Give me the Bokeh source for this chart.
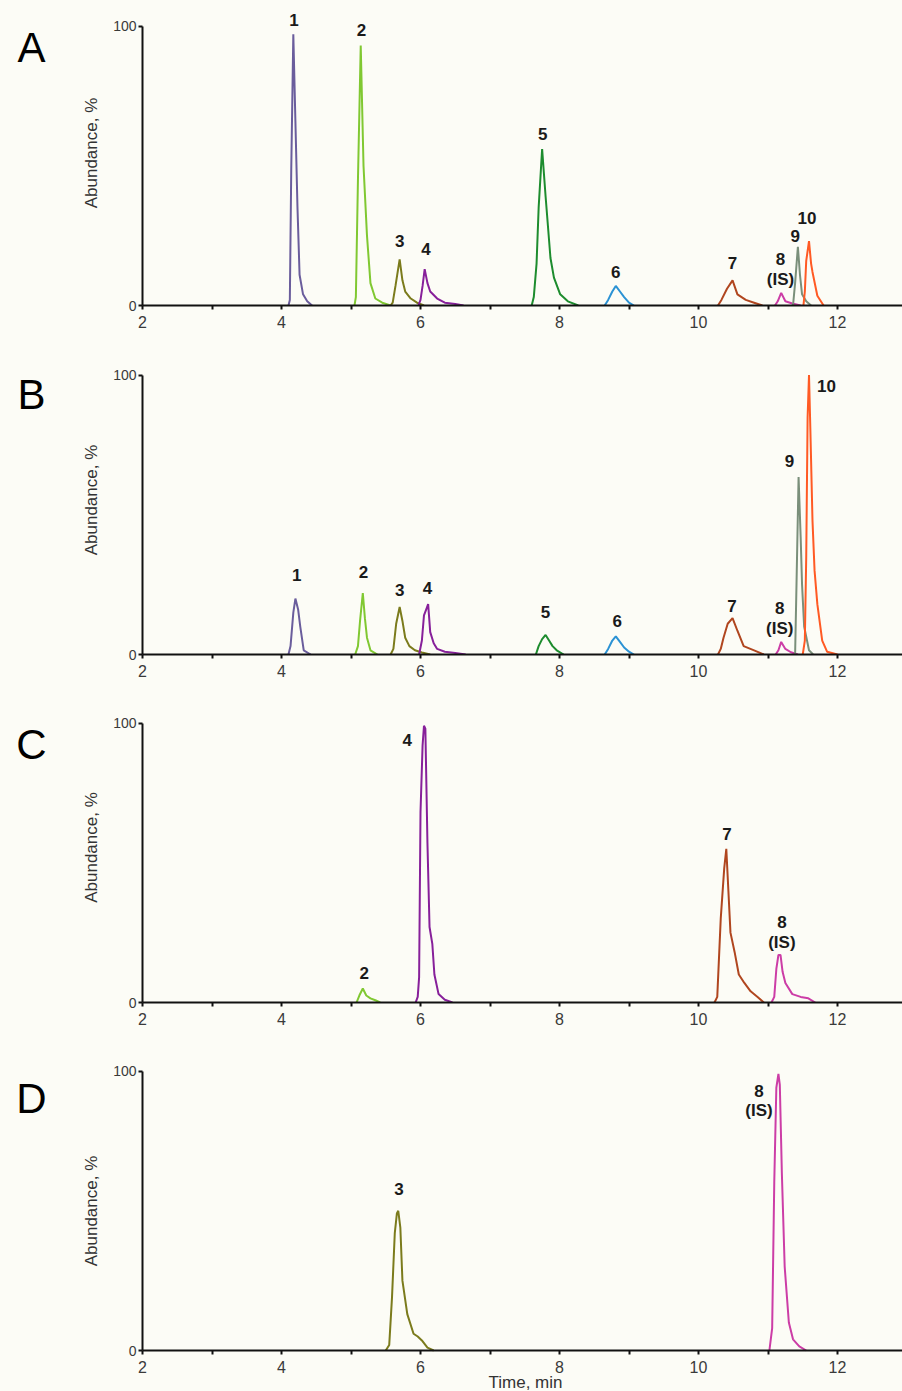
from bokeh.plotting import figure
from bokeh.layouts import column, row
from bokeh.models import Range1d, FixedTicker, ColumnDataSource
from bokeh.embed import file_html
from bokeh.resources import INLINE
from bokeh.core.properties import value

# ---------------- data ----------------
compound_ids = ["1", "2", "3", "4", "5", "6", "7", "8", "9", "10"]
compound_colors = ["#6A5D9C", "#80C832", "#7B7B1C", "#87209A", "#1D8C2E",
                   "#2B92D4", "#B0461F", "#CC3DA6", "#7A8F7A", "#FF5A24"]

# Panel A (time, min / abundance, %)
a1_t = [4.10, 4.12, 4.14, 4.17, 4.20, 4.23, 4.26, 4.31, 4.37, 4.44]
a1_v = [0, 2, 48, 97, 66, 35, 11, 4, 1.5, 0]
a2_t = [5.05, 5.07, 5.10, 5.14, 5.18, 5.23, 5.28, 5.35, 5.45, 5.57]
a2_v = [0, 3, 45, 93, 50, 25, 8, 2.5, 1, 0]
a3_t = [5.57, 5.60, 5.64, 5.70, 5.74, 5.78, 5.86, 5.95, 6.05]
a3_v = [0, 1, 7, 16.5, 9, 5, 2.5, 1, 0]
a4_t = [5.97, 6.00, 6.03, 6.06, 6.10, 6.14, 6.24, 6.35, 6.50, 6.62]
a4_v = [0, 2, 7, 13, 8, 5, 2.5, 1, 0.5, 0]
a5_t = [7.60, 7.63, 7.67, 7.70, 7.75, 7.80, 7.87, 7.92, 8.01, 8.12, 8.27]
a5_v = [0, 3, 15, 35, 56, 39, 17, 10, 4, 1.5, 0]
a6_t = [8.65, 8.70, 8.76, 8.81, 8.87, 8.93, 9.00, 9.07]
a6_v = [0, 2, 5, 7, 5, 3, 1, 0]
a7_t = [10.28, 10.33, 10.41, 10.49, 10.56, 10.68, 10.80, 10.92]
a7_v = [0, 2, 6, 9, 4, 2, 1, 0]
a8_t = [11.10, 11.14, 11.19, 11.25, 11.35, 11.47]
a8_v = [0, 1.5, 4.5, 1.5, 0.7, 0]
a9_t = [11.36, 11.39, 11.43, 11.46, 11.49, 11.55, 11.62]
a9_v = [0, 8, 21, 11, 4, 1.5, 0]
a10_t = [11.51, 11.53, 11.55, 11.59, 11.62, 11.64, 11.71, 11.80]
a10_v = [0, 5, 16, 23, 15, 12, 3.5, 0]

# Panel B
b1_t = [4.10, 4.13, 4.17, 4.20, 4.24, 4.27, 4.32, 4.42]
b1_v = [0, 3, 15, 20, 16, 10, 1.5, 0]
b2_t = [5.06, 5.10, 5.13, 5.17, 5.20, 5.23, 5.28, 5.38]
b2_v = [0, 3, 12, 22, 13, 6, 1.5, 0]
b3_t = [5.57, 5.61, 5.65, 5.70, 5.74, 5.78, 5.84, 5.92, 6.02, 6.14]
b3_v = [0, 2, 11, 17, 12, 6, 3, 1.5, 0.7, 0]
b4_t = [5.98, 6.02, 6.05, 6.08, 6.11, 6.14, 6.19, 6.24, 6.35, 6.50, 6.65]
b4_v = [0, 5, 14, 16, 18, 8, 4, 2, 1, 0.5, 0]
b5_t = [7.66, 7.70, 7.75, 7.80, 7.85, 7.90, 7.96, 8.06]
b5_v = [0, 3, 5.5, 7, 5, 3, 1.5, 0]
b6_t = [8.65, 8.70, 8.76, 8.81, 8.87, 8.93, 9.00, 9.07]
b6_v = [0, 2, 5, 6.5, 4.5, 2.5, 1, 0]
b7_t = [10.28, 10.32, 10.36, 10.42, 10.49, 10.56, 10.65, 10.80, 10.94]
b7_v = [0, 2, 6, 11, 13, 8.5, 3, 1.5, 0]
b8_t = [11.11, 11.15, 11.19, 11.25, 11.33, 11.43]
b8_v = [0, 1.5, 4.5, 2, 0.8, 0]
b9_t = [11.39, 11.41, 11.44, 11.47, 11.49, 11.52, 11.59, 11.65]
b9_v = [0, 25, 63.5, 42, 25, 10, 1.5, 0]
b10_t = [11.50, 11.53, 11.55, 11.57, 11.59, 11.61, 11.64, 11.67, 11.71, 11.78, 11.85, 12.00]
b10_v = [0, 5, 35, 85, 100, 80, 48, 30, 18, 5, 1, 0]

# Panel C
c2_t = [5.08, 5.12, 5.17, 5.22, 5.28, 5.35, 5.42]
c2_v = [0, 2.5, 5, 2.5, 1.5, 0.8, 0]
c4_t = [5.93, 5.96, 5.98, 6.00, 6.03, 6.05, 6.07, 6.10, 6.13, 6.17, 6.20, 6.26, 6.35, 6.46]
c4_v = [0, 2, 9, 68, 92, 99, 98, 57, 27, 21, 10, 3, 1, 0]
c7_t = [10.23, 10.27, 10.32, 10.37, 10.40, 10.43, 10.46, 10.52, 10.58, 10.66, 10.75, 10.85, 10.94]
c7_v = [0, 2, 30, 48, 55, 40, 25, 18, 10, 7, 4, 2, 0]
c8_t = [11.05, 11.09, 11.12, 11.15, 11.18, 11.21, 11.25, 11.35, 11.47, 11.58, 11.68]
c8_v = [0, 2, 12, 17, 17, 11, 7, 3, 2, 1.5, 0]

# Panel D
d3_t = [5.50, 5.55, 5.59, 5.63, 5.66, 5.68, 5.71, 5.74, 5.81, 5.90, 5.96, 6.02, 6.10, 6.19]
d3_v = [0, 2, 19, 42, 49, 50, 44, 25, 13, 6, 5, 3.6, 1, 0]
d8_t = [11.02, 11.06, 11.09, 11.12, 11.15, 11.17, 11.20, 11.24, 11.30, 11.36, 11.45, 11.55]
d8_v = [0, 8, 60, 94, 99, 95, 63, 30, 10, 4, 1.5, 0]

# peak labels (text, time, abundance)
a_lab_text = ["1", "2", "3", "4", "5", "6", "7", "8", "(IS)", "9", "10"]
a_lab_t = [4.18, 5.15, 5.70, 6.08, 7.76, 8.81, 10.49, 11.18, 11.18, 11.39, 11.56]
a_lab_v = [102.3, 98.6, 23.0, 20.3, 61.4, 11.9, 15.3, 16.5, 9.3, 24.8, 31.4]
b_lab_text = ["1", "2", "3", "4", "5", "6", "7", "8", "(IS)", "9", "10"]
b_lab_t = [4.22, 5.18, 5.70, 6.10, 7.80, 8.83, 10.48, 11.17, 11.17, 11.31, 11.84]
b_lab_v = [28.3, 29.4, 23.1, 23.7, 15.1, 11.9, 17.5, 16.6, 9.2, 69.2, 96.2]
c_lab_text = ["2", "4", "7", "8", "(IS)"]
c_lab_t = [5.19, 5.81, 10.41, 11.20, 11.20]
c_lab_v = [10.7, 94.0, 60.3, 28.7, 21.6]
d_lab_text = ["3", "8", "(IS)"]
d_lab_t = [5.69, 10.87, 10.87]
d_lab_v = [57.8, 93.0, 85.9]

panel_letters = ["A", "B", "C", "D"]
x_ticks = [2, 4, 6, 8, 10, 12]
x_minor_ticks = [3, 5, 7, 9, 11]
y_ticks = [0, 100]
x_title = "Time, min"
y_title = "Abundance, %"

# ---------------- styling / layout ----------------
BG = "#FCFCF6"
FONT = "Liberation Sans"
PX_PER_MIN = 69.5
PX_PER_PCT = 2.795
LETTER_W = 60
MAIN_W = 842
LEFT = 82
X_END = 2 + (MAIN_W - LEFT) / PX_PER_MIN


def color_of(cid):
    return compound_colors[compound_ids.index(cid)]


def letter_fig(letter, height, baseline_from_top):
    f = figure(width=LETTER_W, height=height, x_range=Range1d(0, LETTER_W),
               y_range=Range1d(0, height), output_backend="svg", toolbar_location=None,
               min_border=0)
    f.axis.visible = False
    f.grid.visible = False
    f.outline_line_color = None
    f.background_fill_color = BG
    f.border_fill_color = BG
    f.text(x=[31], y=[height - baseline_from_top], text=[letter], text_align="center",
           text_baseline="alphabetic", text_font=value(FONT), text_font_size="42px",
           text_color="#000000")
    return f


def make_panel(traces, lab_text, lab_t, lab_v, frame_h, border_bottom, below_zero_px=0):
    height = frame_h + border_bottom
    inner = below_zero_px > 0
    x_start = 2 - LEFT / PX_PER_MIN if inner else 2
    p = figure(width=MAIN_W, height=height,
               x_range=Range1d(x_start, X_END),
               y_range=Range1d(-below_zero_px / PX_PER_PCT, (frame_h - below_zero_px) / PX_PER_PCT),
               output_backend="svg", toolbar_location=None,
               min_border_left=0 if inner else LEFT, min_border_right=0, min_border_top=0,
               min_border_bottom=border_bottom)
    p.background_fill_color = BG
    p.border_fill_color = BG
    p.outline_line_color = None
    p.xgrid.visible = False
    p.ygrid.visible = False

    for cid, t, v in traces:
        p.line(t, v, line_color=color_of(cid), line_width=2)

    src = ColumnDataSource(dict(x=lab_t, y=lab_v, text=lab_text))
    p.text(x="x", y="y", text="text", source=src, text_align="center",
           text_baseline="middle", text_font=value(FONT), text_font_size="17px",
           text_font_style="bold", text_color="#1a1a1a")

    xa = p.xaxis[0]
    ya = p.yaxis[0]
    if inner:
        xa.fixed_location = 0
        ya.fixed_location = 2
    xa.ticker = FixedTicker(ticks=x_ticks, minor_ticks=x_minor_ticks)
    xa.bounds = (2, 13)
    xa.axis_line_width = 2
    xa.axis_line_color = "#111111"
    xa.major_tick_line_width = 2
    xa.minor_tick_line_width = 2
    xa.major_tick_line_color = "#111111"
    xa.minor_tick_line_color = "#111111"
    xa.major_tick_in = 0
    xa.major_tick_out = 4
    xa.minor_tick_in = 0
    xa.minor_tick_out = 4
    xa.major_label_standoff = 6
    xa.major_label_text_font = FONT
    xa.major_label_text_font_size = "16px"
    xa.major_label_text_color = "#3a3a3a"

    ya.ticker = FixedTicker(ticks=y_ticks, minor_ticks=[])
    ya.bounds = (0, 100)
    ya.axis_line_width = 2
    ya.axis_line_color = "#111111"
    ya.major_tick_line_width = 2
    ya.major_tick_line_color = "#111111"
    ya.major_tick_in = 0
    ya.major_tick_out = 4
    ya.minor_tick_line_color = None
    ya.major_label_standoff = 2
    ya.major_label_text_font = FONT
    ya.major_label_text_font_size = "14px"
    ya.major_label_text_color = "#3a3a3a"
    ya.axis_label = y_title
    ya.axis_label_text_font = FONT
    ya.axis_label_text_font_size = "17px"
    ya.axis_label_text_font_style = "normal"
    ya.axis_label_text_color = "#333333"
    ya.axis_label_standoff = 9
    return p


pa = make_panel([(str(i + 1), t, v) for i, (t, v) in enumerate(
    [(a1_t, a1_v), (a2_t, a2_v), (a3_t, a3_v), (a4_t, a4_v), (a5_t, a5_v),
     (a6_t, a6_v), (a7_t, a7_v), (a8_t, a8_v), (a9_t, a9_v), (a10_t, a10_v)])],
    a_lab_text, a_lab_t, a_lab_v, 305, 40)
pb = make_panel([(str(i + 1), t, v) for i, (t, v) in enumerate(
    [(b1_t, b1_v), (b2_t, b2_v), (b3_t, b3_v), (b4_t, b4_v), (b5_t, b5_v),
     (b6_t, b6_v), (b7_t, b7_v), (b8_t, b8_v), (b9_t, b9_v), (b10_t, b10_v)])],
    b_lab_text, b_lab_t, b_lab_v, 309, 38)
pc = make_panel([("2", c2_t, c2_v), ("4", c4_t, c4_v), ("7", c7_t, c7_v), ("8", c8_t, c8_v)],
                c_lab_text, c_lab_t, c_lab_v, 310, 39)
pd = make_panel([("3", d3_t, d3_v), ("8", d8_t, d8_v)],
                d_lab_text, d_lab_t, d_lab_v, 350, 0, below_zero_px=41)
pd.text(x=[2 + (525 - 142) / PX_PER_MIN], y=[-22 / PX_PER_PCT], text=[x_title],
        text_align="center", text_baseline="top", text_font=value(FONT),
        text_font_size="17px", text_color="#333333")

la = letter_fig(panel_letters[0], 345, 53)
lb = letter_fig(panel_letters[1], 347, 55)
lc = letter_fig(panel_letters[2], 349, 58)
ld = letter_fig(panel_letters[3], 350, 57)

layout = column(row(la, pa, spacing=0), row(lb, pb, spacing=0),
                row(lc, pc, spacing=0), row(ld, pd, spacing=0), spacing=0)
layout.styles = {"background-color": BG}

open("out.html", "w").write(file_html(layout, INLINE))
